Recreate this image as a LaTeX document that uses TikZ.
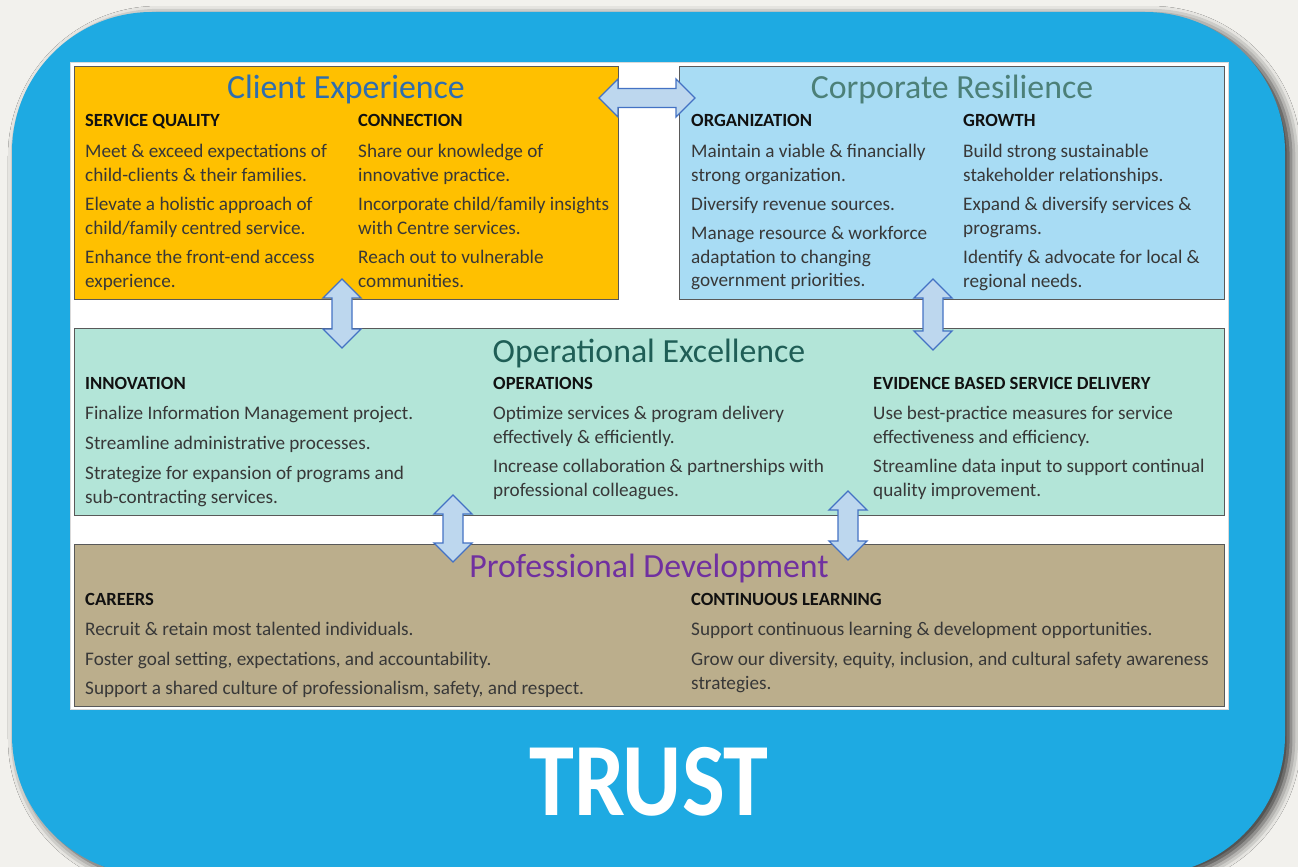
\documentclass[tikz,border=0pt]{standalone}
\usepackage{fontspec}
\setmainfont{Carlito}
\usetikzlibrary{shadows.blur}
\definecolor{bgray}{HTML}{F2F1ED}
\definecolor{outblue}{HTML}{1EAAE2}
\definecolor{ceorange}{HTML}{FFC000}
\definecolor{crblue}{HTML}{A8DCF4}
\definecolor{oemint}{HTML}{B3E5D8}
\definecolor{pdtan}{HTML}{BBAE8C}
\definecolor{boxline}{HTML}{595959}
\definecolor{cetitle}{HTML}{2E6EB0}
\definecolor{crtitle}{HTML}{4C8078}
\definecolor{oetitle}{HTML}{1F5E56}
\definecolor{pdtitle}{HTML}{7030A0}
\definecolor{headc}{HTML}{111111}
\definecolor{bodyc}{HTML}{383838}
\definecolor{arrfill}{HTML}{BDD7EE}
\definecolor{arrline}{HTML}{4472C4}
\newcommand{\vdblarrow}[3]{%
\draw[dbl] (#1,#2) -- (#1+19,#2+19) -- (#1+10,#2+19) -- (#1+10,#3-19) -- (#1+19,#3-19) -- (#1,#3) -- (#1-19,#3-19) -- (#1-10,#3-19) -- (#1-10,#2+19) -- (#1-19,#2+19) -- cycle;}
\begin{document}
\begin{tikzpicture}[x=1pt,y=-1pt,
 box/.style={draw=boxline, line width=1pt, anchor=north west, inner sep=0pt},
 ttl/.style={font=\fontsize{33.8}{40}\selectfont, anchor=base, inner sep=0pt},
 hd/.style={font=\bfseries\fontsize{18.6}{22}\selectfont, anchor=base west, inner sep=0pt, text=headc},
 bd/.style={font=\fontsize{19.2}{23.5}\selectfont, anchor=north west, inner sep=0pt, align=left, text=bodyc, yshift=16.45pt, execute at begin node=\strut},
 ml/.style={yshift=-3.5pt},
 dbl/.style={fill=arrfill, draw=arrline, line width=1.3pt, line join=miter}]
\useasboundingbox (0,0) rectangle (1298,867);
\fill[bgray] (0,0) rectangle (1298,867);
\fill[outblue, rounded corners=140pt, blur shadow={shadow xshift=6pt, shadow yshift=-4pt, shadow blur radius=10pt, shadow opacity=80}] (12,12) rectangle (1285,875);
\node[draw=gray!30, fill=white, line width=0.8pt, anchor=north west, inner sep=0pt, minimum width=1158pt, minimum height=647pt] (frame) at (70,62) {};
% boxes
\node[box, fill=ceorange, minimum width=544pt, minimum height=233pt] (ce) at (74,66) {};
\node[box, fill=crblue, minimum width=545pt, minimum height=233pt] (cr) at (679,66) {};
\node[box, fill=oemint, minimum width=1150pt, minimum height=187pt] (oe) at (74,328) {};
\node[box, fill=pdtan, minimum width=1150pt, minimum height=162pt] (pd) at (74,544) {};
% arrows
\draw[dbl] (599,98) -- (618,79) -- (618,88.5) -- (676,88.5) -- (676,79) -- (695,98) -- (676,117) -- (676,107.5) -- (618,107.5) -- (618,117) -- cycle;
\vdblarrow{342}{279}{348}
\vdblarrow{933}{279}{350}
\vdblarrow{453}{495}{562}
\vdblarrow{848}{491}{560}
% titles
\node[ttl, text=cetitle] (cet) at (346,99) {Client Experience};
\node[ttl, text=crtitle] (crt) at (952,99) {Corporate Resilience};
\node[ttl, text=oetitle] (oet) at (649,362) {Operational Excellence};
\node[ttl, text=pdtitle] (pdt) at (649,577) {Professional Development};
% Client Experience
\node[hd] (ceh1) at (85,126) {SERVICE QUALITY};
\node[bd, ml] (ce11) at (85,157) {Meet \& exceed expectations of\\child-clients \& their families.};
\node[bd, ml] (ce12) at (85,210) {Elevate a holistic approach of\\child/family centred service.};
\node[bd, ml] (ce13) at (85,263) {Enhance the front-end access\\experience.};
\node[hd] (ceh2) at (358,126) {CONNECTION};
\node[bd, ml] (ce21) at (358,157) {Share our knowledge of\\innovative practice.};
\node[bd, ml] (ce22) at (358,210) {Incorporate child/family insights\\with Centre services.};
\node[bd, ml] (ce23) at (358,263) {Reach out to vulnerable\\communities.};
% Corporate Resilience
\node[hd] (crh1) at (691,126) {ORGANIZATION};
\node[bd, ml] (cr11) at (691,157) {Maintain a viable \& financially\\strong organization.};
\node[bd] (cr12) at (691,210) {Diversify revenue sources.};
\node[bd, ml] (cr13) at (691,239) {Manage resource \& workforce\\adaptation to changing\\government priorities.};
\node[hd] (crh2) at (963,126) {GROWTH};
\node[bd, ml] (cr21) at (963,157) {Build strong sustainable\\stakeholder relationships.};
\node[bd, ml] (cr22) at (963,210) {Expand \& diversify services \&\\programs.};
\node[bd, ml] (cr23) at (963,263) {Identify \& advocate for local \&\\regional needs.};
% Operational Excellence
\node[hd] (oeh1) at (85,389) {INNOVATION};
\node[bd] (oe11) at (85,419) {Finalize Information Management project.};
\node[bd] (oe12) at (85,449) {Streamline administrative processes.};
\node[bd, ml] (oe13) at (85,479) {Strategize for expansion of programs and\\sub-contracting services.};
\node[hd] (oeh2) at (493,389) {OPERATIONS};
\node[bd, ml] (oe21) at (493,419) {Optimize services \& program delivery\\effectively \& efficiently.};
\node[bd, ml] (oe22) at (493,472) {Increase collaboration \& partnerships with\\professional colleagues.};
\node[hd] (oeh3) at (873,389) {EVIDENCE BASED SERVICE DELIVERY};
\node[bd, ml] (oe31) at (873,419) {Use best-practice measures for service\\effectiveness and efficiency.};
\node[bd, ml] (oe32) at (873,472) {Streamline data input to support continual\\quality improvement.};
% Professional Development
\node[hd] (pdh1) at (85,605) {CAREERS};
\node[bd] (pd11) at (85,635) {Recruit \& retain most talented individuals.};
\node[bd] (pd12) at (85,665) {Foster goal setting, expectations, and accountability.};
\node[bd] (pd13) at (85,694) {Support a shared culture of professionalism, safety, and respect.};
\node[hd] (pdh2) at (691,605) {CONTINUOUS LEARNING};
\node[bd] (pd21) at (691,635) {Support continuous learning \& development opportunities.};
\node[bd, ml] (pd22) at (691,665) {Grow our diversity, equity, inclusion, and cultural safety awareness\\strategies.};
% TRUST
\node[font=\bfseries\fontsize{104}{110}\selectfont, text=white, anchor=base, inner sep=0pt, xscale=0.87] (trust) at (649,815) {TRUST};
\end{tikzpicture}
\end{document}
